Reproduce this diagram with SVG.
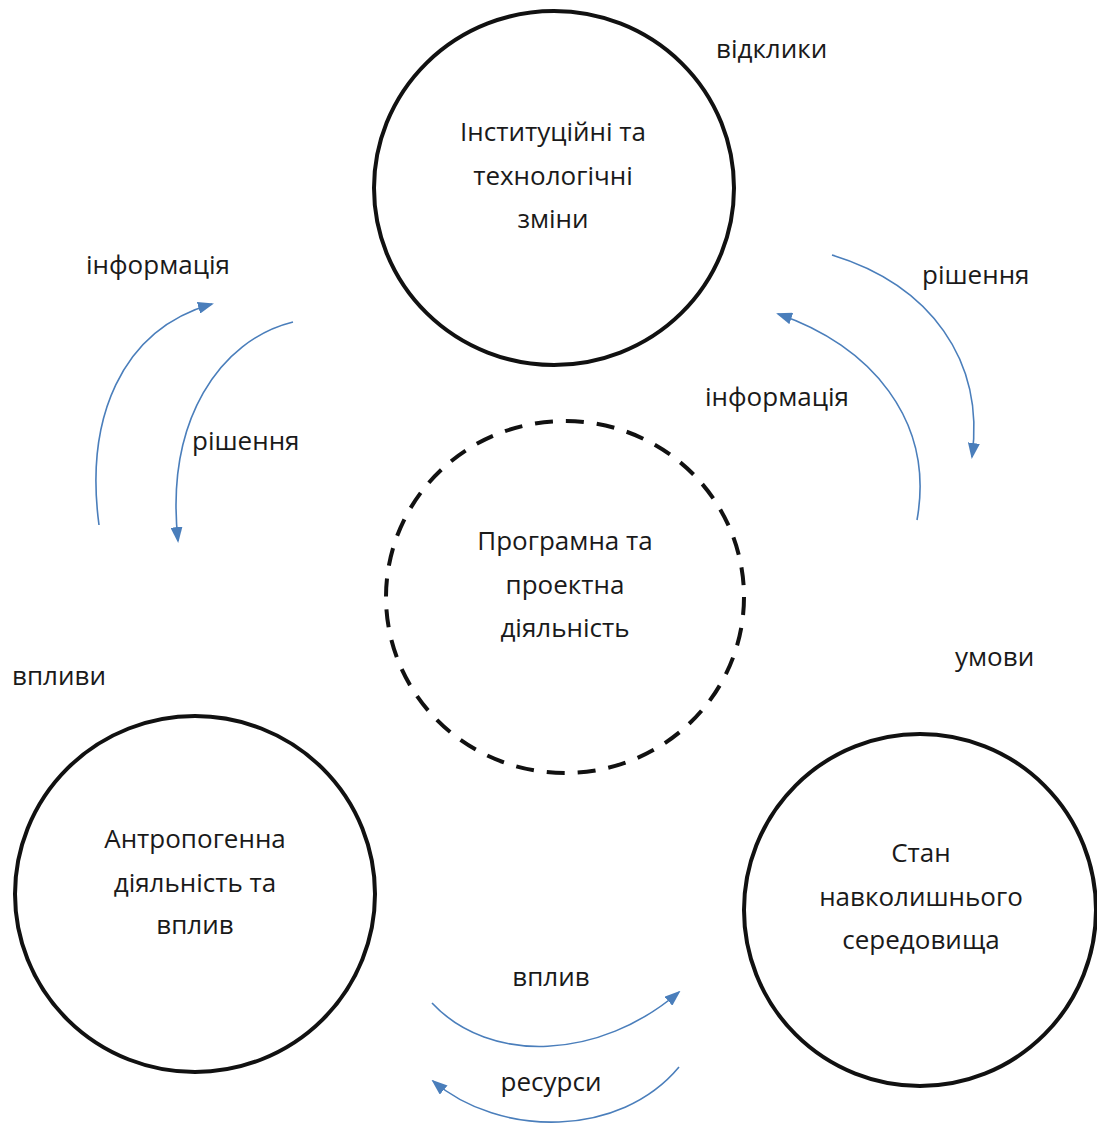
<svg xmlns="http://www.w3.org/2000/svg" width="1097" height="1124" viewBox="0 0 1097 1124">
<style>
text{font-family:"Open Sans","Noto Sans","DejaVu Sans",sans-serif;font-size:26px;fill:#1a1a1a}
.c{text-anchor:middle}
.node{fill:#fff;stroke:#111;stroke-width:4}
.dash{stroke-dasharray:18 13}
.arc{fill:none;stroke:#4a7ebb;stroke-width:1.6;marker-end:url(#ah)}
</style>
<defs>
<marker id="ah" viewBox="0 0 16 12" refX="14" refY="6" markerWidth="16" markerHeight="12" markerUnits="userSpaceOnUse" orient="auto">
<path d="M0,0 L16,6 L0,12 Z" fill="#4a7ebb"/>
</marker>
</defs>
<rect width="1097" height="1124" fill="#fff"/>
<g id="connectors">
<path class="arc" d="M99,525 C85,420 120,330 212,304"/>
<path class="arc" d="M293,322 C220,340 165,420 178,541"/>
<path class="arc" d="M832,255 C930,285 985,360 972,457"/>
<path class="arc" d="M917,520 C935,420 870,345 778,314"/>
<path class="arc" d="M432,1003 C490,1065 600,1060 679,992"/>
<path class="arc" d="M679,1067 C620,1138 500,1138 433,1081"/>
</g>
<g id="node-top">
<ellipse class="node" cx="554" cy="188" rx="180" ry="177"/>
<text class="c" x="553" y="141">Інституційні та</text>
<text class="c" x="553" y="185">технологічні</text>
<text class="c" x="553" y="228">зміни</text>
</g>
<g id="node-center">
<ellipse class="node dash" cx="565" cy="597" rx="179" ry="176"/>
<text class="c" x="565" y="550">Програмна та</text>
<text class="c" x="565" y="594">проектна</text>
<text class="c" x="565" y="637">діяльність</text>
</g>
<g id="node-left">
<ellipse class="node" cx="195" cy="894" rx="180" ry="178"/>
<text class="c" x="195" y="848">Антропогенна</text>
<text class="c" x="195" y="892">діяльність та</text>
<text class="c" x="195" y="934">вплив</text>
</g>
<g id="node-right">
<ellipse class="node" cx="920" cy="910" rx="176" ry="176"/>
<text class="c" x="921" y="862">Стан</text>
<text class="c" x="921" y="906">навколишнього</text>
<text class="c" x="921" y="949">середовища</text>
</g>
<g id="labels">
<text x="716" y="58">відклики</text>
<text x="86" y="274">інформація</text>
<text x="192" y="450">рішення</text>
<text x="922" y="284">рішення</text>
<text x="705" y="406">інформація</text>
<text x="12" y="685">впливи</text>
<text x="955" y="666">умови</text>
<text class="c" x="551" y="986">вплив</text>
<text class="c" x="551" y="1091">ресурси</text>
</g>
</svg>
